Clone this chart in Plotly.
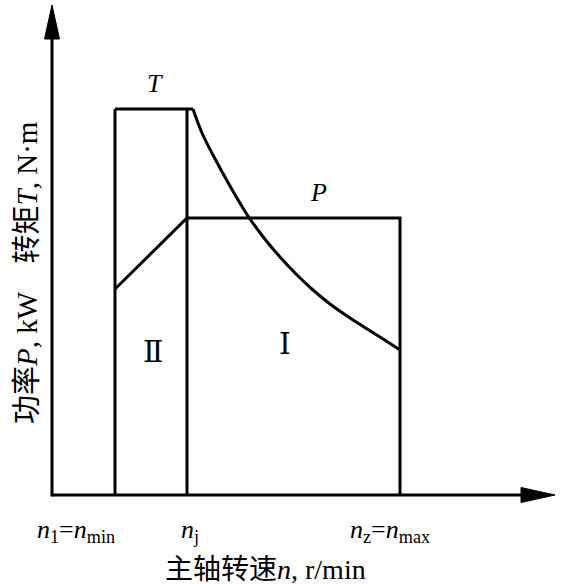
import plotly.graph_objects as go

# ---- data (units are arbitrary speed / torque-power units) ----
n_min = 63
n_j = 135
n_max = 348
T_max = 386
P_max = 277
P_at_nmin = 206

# constant-torque plateau
T_flat_n = [n_min, 141]
T_flat_v = [T_max, T_max]
# falling torque curve (constant power region)
T_curve_n = [141, 150, 161, 178, 196, 212, 228, 245, 261, 278, 295, 312, 328, n_max]
T_curve_v = [386, 362, 340, 309, 279, 257, 238, 220, 205, 191, 179, 168, 158, 145]

P_curve_n = [n_min, n_j, n_max, n_max]
P_curve_v = [P_at_nmin, P_max, P_max, 0]

tick_pos = [n_min, n_j, n_max]
tick_text = ["<i>n</i><sub>1</sub>=<i>n</i><sub>min</sub>",
             "<i>n</i><sub>j</sub>",
             "<i>n</i><sub>z</sub>=<i>n</i><sub>max</sub>"]
tick_shift = [-39, 3, -10]

x_title = "主轴转速<i>n</i>, r/min"
y_title = "功率<i>P</i>, kW    转矩<i>T</i>, N·m"

# ---- layout geometry ----
W, H = 561, 584
X0, Y0 = 52, 495          # pixel position of the origin
X_END = 503               # x-axis arrow tip (data units)
Y_END = 490               # y-axis arrow tip (data units)
HEAD_L, HEAD_W = 34, 7.5  # arrow head length / half width

LINE = dict(color="black", width=3)
SERIF = "Liberation Serif, Times New Roman, Noto Sans CJK SC, serif"

fig = go.Figure()

# vertical boundaries at n_min and n_j
fig.add_trace(go.Scatter(x=[n_min, n_min], y=[0, T_max], mode="lines", line=LINE, hoverinfo="skip"))
fig.add_trace(go.Scatter(x=[n_j, n_j], y=[0, T_max], mode="lines", line=LINE, hoverinfo="skip"))
# torque plateau and curve
fig.add_trace(go.Scatter(x=T_flat_n, y=T_flat_v, mode="lines", line=LINE, hoverinfo="skip"))
fig.add_trace(go.Scatter(x=T_curve_n, y=T_curve_v, mode="lines",
                         line=dict(color="black", width=3, shape="spline", smoothing=1.0),
                         hoverinfo="skip"))
# power curve
fig.add_trace(go.Scatter(x=P_curve_n, y=P_curve_v, mode="lines", line=LINE, hoverinfo="skip"))

# axes with arrow heads
shapes = [
    dict(type="line", x0=0, y0=0, x1=X_END - HEAD_L + 2, y1=0, line=LINE, xref="x", yref="y"),
    dict(type="line", x0=0, y0=-1.5, x1=0, y1=Y_END - HEAD_L + 2, line=LINE, xref="x", yref="y"),
    dict(type="path", xref="x", yref="y", fillcolor="black", line=dict(color="black", width=1),
         path=f"M{X_END},0 L{X_END - HEAD_L},{HEAD_W} L{X_END - HEAD_L},{-HEAD_W} Z"),
    dict(type="path", xref="x", yref="y", fillcolor="black", line=dict(color="black", width=1),
         path=f"M0,{Y_END} L{HEAD_W},{Y_END - HEAD_L} L{-HEAD_W},{Y_END - HEAD_L} Z"),
]

annotations = []
for xp, dx, txt in zip(tick_pos, tick_shift, tick_text):
    annotations.append(dict(x=xp + dx, y=-36, text=txt, showarrow=False,
                            font=dict(family=SERIF, size=26, color="black"),
                            xanchor="center", yanchor="middle"))
annotations += [
    dict(x=213, y=-74, text=x_title, showarrow=False,
         font=dict(family=SERIF, size=28, color="black")),
    dict(x=-25, y=222, text=y_title, showarrow=False, textangle=-90,
         font=dict(family=SERIF, size=29, color="black")),
    dict(x=103, y=412, text="<i>T</i>", showarrow=False,
         font=dict(family=SERIF, size=26, color="black")),
    dict(x=266, y=303, text="<i>P</i>", showarrow=False,
         font=dict(family=SERIF, size=26, color="black")),
    dict(x=101, y=144, text="Ⅱ", showarrow=False,
         font=dict(family="DejaVu Serif, Liberation Serif, serif", size=30, color="black")),
    dict(x=233, y=152, text="Ⅰ", showarrow=False,
         font=dict(family="DejaVu Serif, Liberation Serif, serif", size=30, color="black")),
]

fig.update_layout(
    width=W, height=H, autosize=False,
    margin=dict(l=0, r=0, t=0, b=0, pad=0),
    paper_bgcolor="white", plot_bgcolor="white",
    showlegend=False,
    xaxis=dict(range=[-X0, W - X0], visible=False, fixedrange=True),
    yaxis=dict(range=[Y0 - H, Y0], visible=False, fixedrange=True),
    shapes=shapes, annotations=annotations,
)

fig.write_html("out.html", config={"displayModeBar": False},
               post_script="document.body.style.margin='0';document.body.style.overflow='hidden';")
